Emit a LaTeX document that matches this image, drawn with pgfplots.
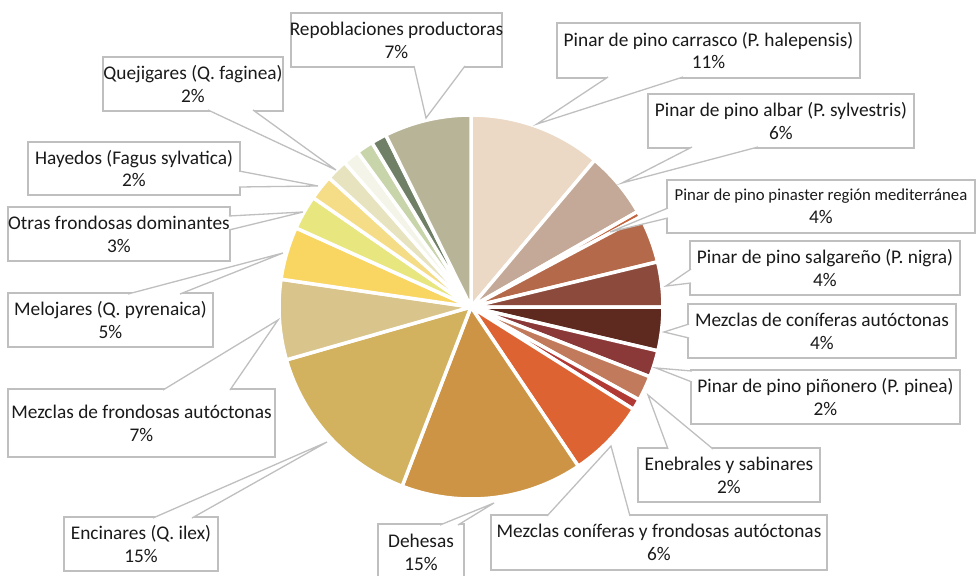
\documentclass[border=0pt]{standalone}
\usepackage{pgfplots}
\pgfplotsset{compat=1.18}
\usepackage{pgfplotstable}
\usepackage{fontspec}
\setmainfont{Carlito}
\usetikzlibrary{calc}

\definecolor{s0}{HTML}{EBD8C5}
\definecolor{s1}{HTML}{C4A998}
\definecolor{s2}{HTML}{C4643C}
\definecolor{s3}{HTML}{B5694B}
\definecolor{s4}{HTML}{8C4A3C}
\definecolor{s5}{HTML}{5E2A1F}
\definecolor{s6}{HTML}{8A3838}
\definecolor{s7}{HTML}{C17A5B}
\definecolor{s8}{HTML}{B23A34}
\definecolor{s9}{HTML}{DD6432}
\definecolor{s10}{HTML}{CC9444}
\definecolor{s11}{HTML}{D2B15F}
\definecolor{s12}{HTML}{D9C48B}
\definecolor{s13}{HTML}{F9D562}
\definecolor{s14}{HTML}{E8E67E}
\definecolor{s15}{HTML}{F5DD88}
\definecolor{s16}{HTML}{E7E3BF}
\definecolor{s17}{HTML}{F4F4E8}
\definecolor{s18}{HTML}{C8D4AA}
\definecolor{s19}{HTML}{708067}
\definecolor{s20}{HTML}{B8B497}
\definecolor{cgray}{HTML}{BFBFBF}
\definecolor{tcol}{HTML}{1A1A1A}

\newcommand{\lab}{\fontsize{19.4}{23}\selectfont}

% share of each slice (percent), clockwise from 12 o'clock
\pgfplotstableread{
value
11.14
5.58
0.50
4.00
3.78
3.67
2.25
2.11
0.92
6.61
15.28
14.72
6.75
4.44
2.89
2.11
1.81
1.39
1.42
1.31
7.33
}\piedata

% box corner 1, box corner 2, wedge base 1, wedge base 2, tip, text
\newcommand{\callout}[6]{%
  \draw[cgray, line width=1.3bp, fill=white] (axis cs:#1) rectangle (axis cs:#2);
  \filldraw[cgray, line width=1.3bp, fill=white, line join=miter] (axis cs:#3) -- (axis cs:#5) -- (axis cs:#4);
  \node[align=center, text=tcol, font=\lab, inner sep=0pt] at ($(axis cs:#1)!0.5!(axis cs:#2)$) {#6};
}

\begin{document}
\begin{tikzpicture}
\begin{axis}[
  at={(0,0)}, anchor=south west,
  scale only axis, width=980bp, height=576bp,
  xmin=0, xmax=980, ymin=0, ymax=576, y dir=reverse,
  hide axis, clip=true,
]
\pgfplotstablegetrowsof{\piedata}
\pgfmathtruncatemacro{\nrows}{\pgfplotsretval-1}
\gdef\cumangle{0}
\pgfplotsforeachungrouped \i in {0,...,\nrows}{%
  \pgfplotstablegetelem{\i}{value}\of\piedata
  \pgfmathsetmacro{\a}{\cumangle}%
  \pgfmathsetmacro{\b}{\cumangle+3.6*\pgfplotsretval}%
  \edef\temp{\noexpand\addplot[fill=s\i, draw=white, line width=3.5bp, line join=round, domain=\a:\b, samples=60] ({471+192*sin(x)},{307-192*cos(x)}) -- (axis cs:471,307) -- cycle;}%
  \temp
  \xdef\cumangle{\b}%
}

\callout{291,13}{502,67}{414,66}{465,66}{426,118}{Repoblaciones productoras\\7\%}
\callout{557,23}{860,78}{608,77}{683,77}{537,124}{Pinar de pino carrasco (P. halepensis)\\11\%}
\callout{648,94}{914,148}{692,147}{758,147}{622,183}{Pinar de pino albar (P. sylvestris)\\6\%}
\callout{667,180}{975,233}{668,208}{668,218}{610,232}{{\fontsize{16.8}{23}\selectfont Pinar de pino pinaster región mediterránea}\\4\%}
\callout{690,241}{960,295}{691,269}{691,283}{666,286}{Pinar de pino salgareño (P. nigra)\\4\%}
\callout{688,304}{956,358}{689,324}{689,338}{664,332}{Mezclas de coníferas autóctonas\\4\%}
\callout{691,370}{960,424}{692,371}{692,382}{656,368}{Pinar de pino piñonero (P. pinea)\\2\%}
\callout{638,448}{820,502}{668,449}{713,449}{648,395}{Enebrales y sabinares\\2\%}
\callout{491,515}{827,570}{547,516}{630,516}{611,446}{Mezclas coníferas y frondosas autóctonas\\6\%}
\callout{378,524}{464,580}{440,525}{458,525}{494,503}{Dehesas\\15\%}
\callout{64,517}{218,571}{153,518}{192,518}{327,442}{Encinares (Q. ilex)\\15\%}
\callout{8,389}{275,457}{163,390}{230,390}{278,320}{Mezclas de frondosas autóctonas\\7\%}
\callout{8,293}{213,347}{128,294}{180,294}{283,253}{Melojares (Q. pyrenaica)\\5\%}
\callout{8,207}{230,261}{229,216}{229,230}{303,212}{Otras frondosas dominantes\\3\%}
\callout{28,142}{240,195}{239,171}{239,187}{318,186}{Hayedos (Fagus sylvatica)\\2\%}
\callout{103,57}{283,111}{208,110}{253,110}{336,170}{Quejigares (Q. faginea)\\2\%}
\end{axis}
\pgfresetboundingbox
\useasboundingbox (0,0) rectangle (980bp,576bp);
\end{tikzpicture}
\end{document}
